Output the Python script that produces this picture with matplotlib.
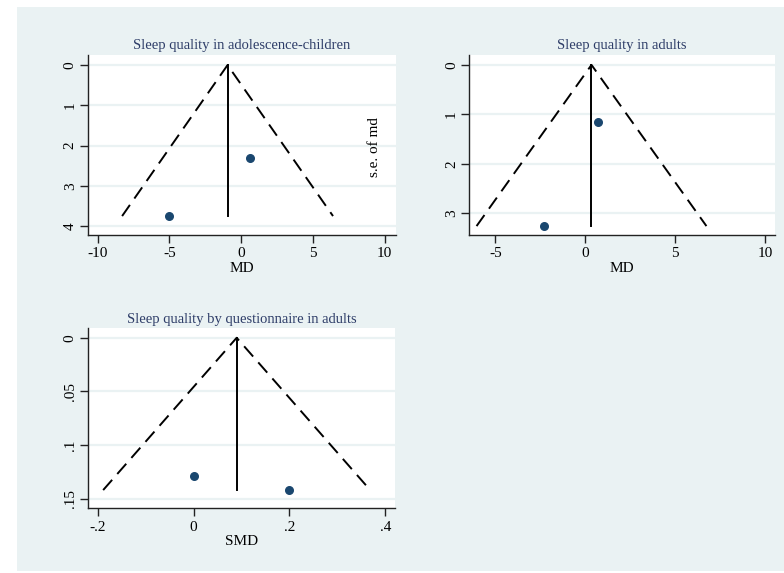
import matplotlib.pyplot as plt
from matplotlib.patches import Rectangle

# Funnel plot data: effect estimates, standard errors, pooled estimates
md_kids = [-5.0, 0.6]
se_kids = [3.75, 2.31]
pooled_kids = -0.94

md_adults = [0.72, -2.29]
se_adults = [1.15, 3.26]
pooled_adults = 0.35

smd_quest = [0.0, 0.2]
se_quest = [0.129, 0.142]
pooled_quest = 0.09

BG = "#eaf2f3"
NAVY = "#1a476f"
TITLE_C = "#2e3d68"

plt.rcParams["font.family"] = ["Liberation Serif", "DejaVu Serif"]

fig = plt.figure(figsize=(7.84, 5.73), dpi=100)
fig.patch.set_facecolor("white")
fig.patches.append(Rectangle((17 / 784, 1 - 571 / 573), 1, 564 / 573,
                             transform=fig.transFigure, facecolor=BG,
                             edgecolor="none", zorder=-10))


def funnel(ax, est, se, pooled, title, xlabel, xticks, xtl, yticks, ytl, xlim, ylim):
    ax.set_facecolor("white")
    for yt in yticks:
        ax.axhline(yt, color=BG, lw=1.6, zorder=0)
    top = max(se)
    ax.plot([pooled - 1.96 * top, pooled, pooled + 1.96 * top], [top, 0, top],
            color="black", lw=1.4, dashes=(7, 4), zorder=2)
    ax.plot([pooled, pooled], [0, top], color="black", lw=1.4, zorder=2)
    ax.scatter(est, se, s=30, color=NAVY, zorder=3)
    ax.set_xlim(*xlim)
    ax.set_ylim(ylim[1], ylim[0])
    ax.set_xticks(xticks)
    ax.set_xticklabels(xtl)
    ax.set_yticks(yticks)
    ax.set_yticklabels(ytl, rotation=90, va="center")
    ax.spines["top"].set_visible(False)
    ax.spines["right"].set_visible(False)
    for s in ("left", "bottom"):
        ax.spines[s].set_color("#222222")
        ax.spines[s].set_linewidth(1.0)
    ax.tick_params(direction="out", length=6, width=1.0, color="#222222",
                   labelsize=11, pad=3)
    ax.tick_params(axis="y", pad=2)
    ax.set_xlabel(xlabel, fontsize=11, labelpad=1)
    ax.set_title(title, fontsize=10.5, color=TITLE_C, pad=4)


ax1 = fig.add_axes([0.1122, 0.5899, 0.3929, 0.3141])
funnel(ax1, md_kids, se_kids, pooled_kids, "Sleep quality in adolescence-children", "MD",
       [-10, -5, 0, 5, 10], ["-10", "-5", "0", "5", "10"],
       [0, 1, 2, 3, 4], ["0", "1", "2", "3", "4"], (-10.67, 10.8), (-0.25, 4.22))

ax2 = fig.add_axes([0.5982, 0.5899, 0.3903, 0.3141])
funnel(ax2, md_adults, se_adults, pooled_adults, "Sleep quality in adults", "MD",
       [-5, 0, 5, 10], ["-5", "0", "5", "10"],
       [0, 1, 2, 3], ["0", "1", "2", "3"], (-6.46, 10.55), (-0.2, 3.44))

ax3 = fig.add_axes([0.1122, 0.1129, 0.3916, 0.3141])
funnel(ax3, smd_quest, se_quest, pooled_quest, "Sleep quality by questionnaire in adults", "SMD",
       [-0.2, 0, 0.2, 0.4], ["-.2", "0", ".2", ".4"],
       [0, 0.05, 0.1, 0.15], ["0", ".05", ".1", ".15"], (-0.22, 0.42), (-0.0088, 0.159))

fig.text(375 / 784, 1 - 147 / 573, "s.e. of md", rotation=90, fontsize=11,
         ha="center", va="center")

fig.savefig("out.png", dpi=100)
